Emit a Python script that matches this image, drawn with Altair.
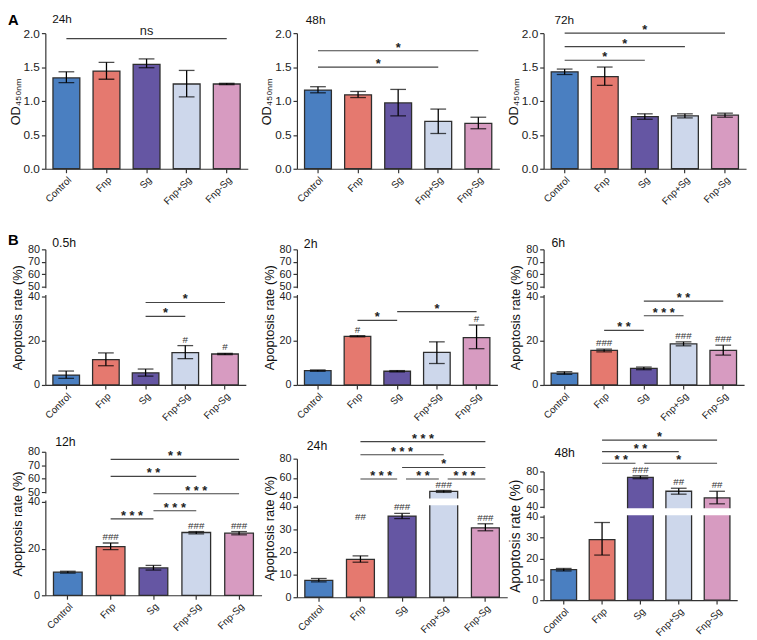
import altair as alt
import pandas as pd

FONT = "Liberation Sans"

groups = ["Control", "Fnp", "Sg", "Fnp+Sg", "Fnp-Sg"]
colors = ["#4a7fc1", "#e5796f", "#6556a3", "#cdd7eb", "#d79bc1"]

# ---------------- Panel A: OD450nm ----------------
od24_mean = [1.34, 1.44, 1.54, 1.25, 1.25]
od24_lo = [1.27, 1.32, 1.49, 1.06, 1.24]
od24_hi = [1.43, 1.57, 1.62, 1.45, 1.26]
od24_sig = [("Control", "Fnp-Sg", 1.92, "ns")]

od48_mean = [1.16, 1.09, 0.97, 0.70, 0.67]
od48_lo = [1.12, 1.05, 0.78, 0.52, 0.59]
od48_hi = [1.21, 1.14, 1.17, 0.88, 0.76]
od48_sig = [("Control", "Fnp+Sg", 1.50, "*"), ("Control", "Fnp-Sg", 1.74, "*")]

od72_mean = [1.43, 1.36, 0.77, 0.78, 0.79]
od72_lo = [1.39, 1.23, 0.73, 0.75, 0.76]
od72_hi = [1.47, 1.50, 0.81, 0.81, 0.82]
od72_sig = [("Control", "Sg", 1.60, "*"), ("Control", "Fnp+Sg", 1.80, "*"),
            ("Control", "Fnp-Sg", 2.00, "*")]

no_hash = ["", "", "", "", ""]

# ---------------- Panel B: apoptosis rate (%) ----------------
ap05_mean = [4.5, 11.5, 5.5, 14.6, 14.0]
ap05_lo = [3.0, 8.7, 4.0, 11.9, 13.7]
ap05_hi = [6.3, 14.5, 7.2, 17.8, 14.3]
ap05_hash = ["", "", "", "#", "#"]
ap05_sig = [("Sg", "Fnp+Sg", 31.0, "*"), ("Sg", "Fnp-Sg", 37.3, "*")]

ap2_mean = [6.5, 22.0, 6.2, 14.7, 21.4]
ap2_lo = [6.2, 21.7, 5.9, 9.7, 16.4]
ap2_hi = [6.8, 22.3, 6.5, 19.5, 27.1]
ap2_hash = ["", "#", "", "", "#"]
ap2_sig = [("Fnp", "Sg", 29.2, "*"), ("Sg", "Fnp-Sg", 33.2, "*")]

ap6_mean = [5.4, 15.6, 7.5, 18.6, 15.6]
ap6_lo = [4.8, 15.0, 6.9, 17.7, 13.5]
ap6_hi = [6.0, 16.2, 8.1, 19.5, 18.0]
ap6_hash = ["", "###", "", "###", "###"]
ap6_sig = [("Fnp", "Sg", 24.7, "**"), ("Sg", "Fnp+Sg", 31.3, "***"),
           ("Sg", "Fnp-Sg", 37.9, "**")]

ap12_mean = [9.9, 20.8, 11.7, 26.9, 26.6]
ap12_lo = [9.5, 19.6, 10.8, 26.3, 25.9]
ap12_hi = [10.3, 22.4, 12.8, 27.3, 27.3]
ap12_hash = ["", "###", "", "###", "###"]
ap12_sig = [("Fnp", "Sg", 32.7, "***"), ("Sg", "Fnp+Sg", 36.2, "***"),
            ("Sg", "Fnp-Sg", 48.3, "***"), ("Fnp", "Fnp+Sg", 61.7, "**"),
            ("Fnp", "Fnp-Sg", 74.4, "**")]

ap24_mean = [7.5, 16.8, 35.9, 45.8, 30.7]
ap24_lo = [6.8, 15.5, 34.8, 44.8, 29.4]
ap24_hi = [8.3, 18.3, 37.1, 46.8, 32.5]
ap24_hash = ["", "##", "###", "###", "###"]
ap24_hash_at = [None, 33.0, None, None, None]
ap24_sig = [("Fnp", "Sg", 58.8, "***"), ("Sg", "Fnp+Sg", 58.8, "**"),
            ("Fnp+Sg", "Fnp-Sg", 58.8, "***"), ("Sg", "Fnp-Sg", 70.8, "*"),
            ("Fnp", "Fnp+Sg", 84.1, "***"), ("Fnp", "Fnp-Sg", 97.8, "***")]

ap48_mean = [14.6, 29.0, 73.3, 57.6, 50.1]
ap48_lo = [14.0, 21.6, 71.8, 54.3, 43.4]
ap48_hi = [15.2, 37.2, 75.1, 61.0, 57.6]
ap48_hash = ["", "", "###", "##", "##"]
ap48_sig = [("Fnp", "Sg", 89.3, "**"), ("Sg", "Fnp-Sg", 89.3, "*"),
            ("Fnp", "Fnp+Sg", 102.4, "**"), ("Fnp", "Fnp-Sg", 115.5, "*")]

od_ticks = [0, 0.5, 1.0, 1.5, 2.0]
b_ticks_a = [0, 20, 40, 50, 60, 70, 80]
b_ticks_b = [0, 10, 20, 30, 40, 40.0001, 60, 80]

PI, PO = 0.33, 0.19


def panel(title, mean, lo, hi, hashes, sig, *, ydomain, yrange, yticks, yfmt,
          ytitle, cell_w, plot_w, height, title_xy, title_size, ylabel_size,
          ytitle_size, ytitle_pad, letter=None, gap=None, hash_at=None):
    df = pd.DataFrame({"group": groups, "mean": mean, "lo": lo, "hi": hi,
                       "zero": [0] * len(groups), "hash": hashes})
    if hash_at is None:
        df["hy"] = df["hi"]
    else:
        df["hy"] = [h if a is None else a for h, a in zip(hi, hash_at)]
    xs = alt.Scale(domain=groups, range=[0, plot_w], paddingInner=PI, paddingOuter=PO)
    ys = alt.Scale(domain=ydomain, range=yrange, zero=False, nice=False)
    step = plot_w / (len(groups) - PI + 2 * PO)
    xaxis = alt.Axis(title=None, labelAngle=-45, labelFontSize=10, labelPadding=2,
                     tickSize=4, labelOverlap=False)
    yaxis = alt.Axis(values=yticks, format=yfmt, title=ytitle,
                     labelFontSize=ylabel_size, titleFontSize=ytitle_size,
                     titlePadding=ytitle_pad, labelPadding=2, tickSize=4,
                     labelOverlap=False)

    def XC(f):
        return alt.X(f"{f}:N", scale=xs, axis=xaxis, bandPosition=0.5)

    def YN(f):
        return alt.Y(f"{f}:Q", scale=ys, axis=yaxis)

    base = alt.Chart(df)
    bars = base.mark_bar(stroke="#2e2e2e", strokeWidth=1.3).encode(
        x=alt.X("group:N", scale=xs, axis=xaxis),
        y=YN("mean"),
        y2=alt.Y2("zero:Q"),
        color=alt.Color("group:N", scale=alt.Scale(domain=groups, range=colors),
                        legend=None),
    )
    err = base.mark_rule(color="black", strokeWidth=1.3).encode(
        x=XC("group"), y=YN("lo"), y2=alt.Y2("hi:Q"))
    cap_lo = base.mark_tick(color="black", thickness=1.3, size=16,
                            orient="horizontal").encode(x=XC("group"), y=YN("lo"))
    cap_hi = base.mark_tick(color="black", thickness=1.3, size=16,
                            orient="horizontal").encode(x=XC("group"), y=YN("hi"))
    layers = [bars, err, cap_lo, cap_hi]

    if gap is not None:
        mask = alt.Chart(pd.DataFrame({"a": [gap[0]], "b": [gap[1]]})).mark_rect(
            color="white", yOffset=-1.5, y2Offset=1.5).encode(
            x=alt.value(-5), x2=alt.value(plot_w + 5), y=YN("a"), y2=alt.Y2("b:Q"))
        layers.append(mask)

    hdf = df[df["hash"] != ""]
    if len(hdf):
        layers.append(alt.Chart(hdf).mark_text(
            fontSize=10, color="#333", baseline="alphabetic", dy=-3).encode(
            x=XC("group"), y=YN("hy"), text="hash:N"))

    s = pd.DataFrame(sig, columns=["g1", "g2", "level", "label"])
    idx = {g: i for i, g in enumerate(groups)}
    s["i1"] = s["g1"].map(idx)
    s["i2"] = s["g2"].map(idx)
    rows = list(s.itertuples())
    s["ls"] = [int(any(t.i2 == r.i1 and abs(t.level - r.level) < 1e-9 for t in rows))
               for r in rows]
    s["se"] = [int(any(t.i1 == r.i2 and abs(t.level - r.level) < 1e-9 for t in rows))
               for r in rows]
    s["mid"] = [groups[(r.i1 + r.i2) // 2] for r in rows]
    s["half"] = [(r.i1 + r.i2) % 2 for r in rows]
    s["disp"] = [" ".join(l) if set(l) == {"*"} else l for l in s["label"]]

    for a in (0, 1):
        for b in (0, 1):
            sub = s[(s["ls"] == a) & (s["se"] == b)]
            if len(sub) == 0:
                continue
            layers.append(alt.Chart(sub).mark_rule(
                color="#444", strokeWidth=1.2, xOffset=4 * a, x2Offset=-5 * b).encode(
                x=XC("g1"), x2=alt.X2("g2", bandPosition=0.5), y=YN("level")))
    for h in (0, 1):
        for ns in (0, 1):
            sub = s[(s["half"] == h) & ((s["label"] == "ns") == bool(ns))]
            if len(sub) == 0:
                continue
            if ns:
                mk = alt.Chart(sub).mark_text(fontSize=13, color="#222",
                                              baseline="alphabetic", dy=-4,
                                              xOffset=step / 2 * h)
            else:
                mk = alt.Chart(sub).mark_text(fontSize=13, fontWeight="bold",
                                              color="#222", baseline="alphabetic",
                                              dy=1, xOffset=step / 2 * h)
            layers.append(mk.encode(x=XC("mid"), y=YN("level"), text="disp:N"))

    layers.append(alt.Chart(pd.DataFrame({"t": [title]})).mark_text(
        align="left", baseline="alphabetic", fontSize=title_size, color="#111").encode(
        x=alt.value(title_xy[0]), y=alt.value(title_xy[1]), text="t:N"))
    if letter is not None:
        layers.append(alt.Chart(pd.DataFrame({"t": [letter[0]]})).mark_text(
            align="left", baseline="alphabetic", fontSize=15, fontWeight="bold",
            color="#000").encode(
            x=alt.value(letter[1]), y=alt.value(letter[2]), text="t:N"))

    return alt.layer(*layers).properties(width=cell_w, height=height)


OD_T = "OD\u2084\u2085\u2080\u2099\u2098"
AP_T = "Apoptosis rate (%)"

a_kw = dict(ydomain=[0, 2], yrange=[138, 0], yticks=od_ticks, yfmt=".1f",
            ytitle=OD_T, plot_w=206, height=138, title_size=12, ylabel_size=12,
            ytitle_size=13, ytitle_pad=1)
pA24 = panel("24h", od24_mean, od24_lo, od24_hi, no_hash, od24_sig, cell_w=212,
             title_xy=(7, -10), letter=("A", -38, -8), **a_kw)
pA48 = panel("48h", od48_mean, od48_lo, od48_hi, no_hash, od48_sig, cell_w=214,
             title_xy=(9, -9), **a_kw)
pA72 = panel("72h", od72_mean, od72_lo, od72_hi, no_hash, od72_sig, cell_w=206,
             title_xy=(11, -9), **a_kw)

b1_kw = dict(ydomain=[0, 40, 50, 80], yrange=[152, 62, 52, 14], yticks=b_ticks_a,
             yfmt="d", ytitle=AP_T, plot_w=204, height=152, title_size=12.5,
             ylabel_size=11, ytitle_size=13, ytitle_pad=3, gap=(40, 50))
p05 = panel("0.5h", ap05_mean, ap05_lo, ap05_hi, ap05_hash, ap05_sig, cell_w=218,
            title_xy=(7, 12), letter=("B", -38, 10), **b1_kw)
p2 = panel("2h", ap2_mean, ap2_lo, ap2_hi, ap2_hash, ap2_sig, cell_w=215,
           title_xy=(7, 13), **b1_kw)
p6 = panel("6h", ap6_mean, ap6_lo, ap6_hi, ap6_hash, ap6_sig, cell_w=204,
           title_xy=(8, 12), **b1_kw)

b2_kw = dict(yfmt="d", ytitle=AP_T, title_size=12.5, ylabel_size=11, ytitle_pad=3)
p12 = panel("12h", ap12_mean, ap12_lo, ap12_hi, ap12_hash, ap12_sig,
            ydomain=[0, 40, 50, 80], yrange=[146, 51, 41, 0], yticks=b_ticks_a,
            cell_w=220, plot_w=220, height=146, ytitle_size=13, gap=(40, 50),
            title_xy=(10, -6), **b2_kw)
p24 = panel("24h", ap24_mean, ap24_lo, ap24_hi, ap24_hash, ap24_sig,
            ydomain=[0, 40, 40.0001, 80], yrange=[148, 56, 46, 7], yticks=b_ticks_b,
            cell_w=214, plot_w=214, height=148, ytitle_size=13, gap=(40, 40.0001),
            title_xy=(10, -2), hash_at=ap24_hash_at, **b2_kw)
p48 = panel("48h", ap48_mean, ap48_lo, ap48_hi, ap48_hash, ap48_sig,
            ydomain=[0, 40, 40.0001, 80], yrange=[151, 66, 56, 20], yticks=b_ticks_b,
            cell_w=197, plot_w=197, height=151, ytitle_size=14, gap=(40, 40.0001),
            title_xy=(11, 5), **b2_kw)

chart = alt.concat(
    pA24, pA48, pA72, p05, p2, p6, p12, p24, p48,
    columns=3, spacing={"row": 68, "column": 36},
    bounds="flush", align="none",
).properties(padding=0, background="white").configure_axis(
    labelFont=FONT, titleFont=FONT, labelColor="#222", titleColor="#111",
    domainColor="#333", tickColor="#333", domainWidth=1.2, tickWidth=1.2,
    grid=False, zindex=0, titleFontWeight="normal",
).configure_view(stroke=None).configure_text(font=FONT)

chart.save("out.html", embed_options={"renderer": "svg", "actions": False})
